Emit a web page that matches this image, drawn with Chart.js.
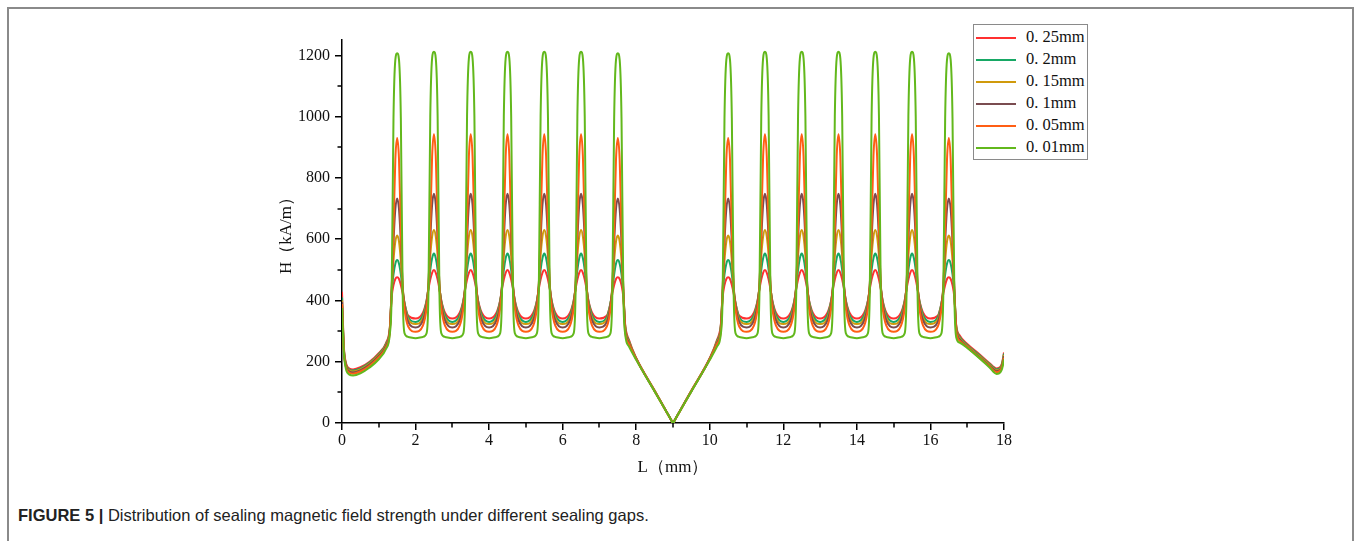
<!DOCTYPE html>
<html>
<head>
<meta charset="utf-8">
<script src="https://cdn.jsdelivr.net/npm/chart.js@4/dist/chart.umd.min.js"></script>
<style>
  html,body{margin:0;padding:0;background:#fff;width:1354px;height:541px;overflow:hidden;}
  #frame{position:absolute;left:7px;top:7px;width:1343px;height:540px;border-top:2px solid #8a8a8a;border-left:2px solid #8a8a8a;border-right:2px solid #8a8a8a;}
  #chart{position:absolute;left:0;top:0;}
  #legend{position:absolute;left:973px;top:24px;width:113px;height:134px;border:1px solid #8a8a8a;background:#fff;font-family:"Liberation Serif","DejaVu Serif",serif;font-size:16.5px;color:#111;}
  .item{position:absolute;left:0;height:20px;line-height:20px;}
  .swatch{position:absolute;left:2px;top:10px;width:40px;height:2px;}
  .lab{position:absolute;left:52px;top:0;white-space:nowrap;}
  #caption{position:absolute;left:18px;top:506px;font-family:"Liberation Sans",Arial,sans-serif;font-size:16.5px;color:#222;white-space:nowrap;}
  #caption b{font-weight:bold;}
</style>
</head>
<body>
<div id="frame"></div>
<canvas id="chart" width="1354" height="490"></canvas>
<div id="legend"></div>
<div id="caption"><b>FIGURE 5 |</b> Distribution of sealing magnetic field strength under different sealing gaps.</div>
<script>
// ---------- data ----------
const seriesNames = ["0. 25mm","0. 2mm","0. 15mm","0. 1mm","0. 05mm","0. 01mm"];
const seriesColors = ["#ff3030","#17a865","#d09a0c","#7a4c50","#ff5e14","#62b81c"];

const L = [
0,0.05,0.1,0.2,0.3,0.5,0.75,1.0,1.2,1.3,
1.35,1.4,1.45,1.5,1.55,1.6,1.65,1.7,1.8,2.0,
2.2,2.3,2.35,2.4,2.45,2.5,2.55,2.6,2.65,2.7,2.8,3.0,
3.2,3.3,3.35,3.4,3.45,3.5,3.55,3.6,3.65,3.7,3.8,4.0,
4.2,4.3,4.35,4.4,4.45,4.5,4.55,4.6,4.65,4.7,4.8,5.0,
5.2,5.3,5.35,5.4,5.45,5.5,5.55,5.6,5.65,5.7,5.8,6.0,
6.2,6.3,6.35,6.4,6.45,6.5,6.55,6.6,6.65,6.7,6.8,7.0,
7.2,7.3,7.35,7.4,7.45,7.5,7.55,7.6,7.65,7.7,7.8,8.0,8.5,8.8,8.95,9.0,
9.05,9.2,9.5,10.0,10.2,10.3,10.35,10.4,10.45,10.5,10.55,10.6,10.65,10.7,10.8,11.0,
11.2,11.3,11.35,11.4,11.45,11.5,11.55,11.6,11.65,11.7,11.8,12.0,
12.2,12.3,12.35,12.4,12.45,12.5,12.55,12.6,12.65,12.7,12.8,13.0,
13.2,13.3,13.35,13.4,13.45,13.5,13.55,13.6,13.65,13.7,13.8,14.0,
14.2,14.3,14.35,14.4,14.45,14.5,14.55,14.6,14.65,14.7,14.8,15.0,
15.2,15.3,15.35,15.4,15.45,15.5,15.55,15.6,15.65,15.7,15.8,16.0,
16.2,16.3,16.35,16.4,16.45,16.5,16.55,16.6,16.65,16.7,16.8,17.0,17.3,17.6,17.8,17.9,17.95,18.0
];

const H025 = [
428,250,200,178,175,182,200,228,262,310,
410,450,470,476,470,450,422,390,350,341,
360,400,437,468,490,499,490,468,437,400,360,341,
360,400,437,468,490,499,490,468,437,400,360,341,
360,400,437,468,490,499,490,468,437,400,360,341,
360,400,437,468,490,499,490,468,437,400,360,341,
360,400,437,468,490,499,490,468,437,400,360,341,
350,390,422,450,470,476,470,450,410,320,272,212,106,42,10,0,
10,42,106,212,272,320,410,450,470,476,470,450,422,390,350,341,
360,400,437,468,490,499,490,468,437,400,360,341,
360,400,437,468,490,499,490,468,437,400,360,341,
360,400,437,468,490,499,490,468,437,400,360,341,
360,400,437,468,490,499,490,468,437,400,360,341,
360,400,437,468,490,499,490,468,437,400,360,341,
350,390,422,450,470,476,470,450,410,320,285,258,228,196,178,183,197,230
];

const H020 = [
410,245,196,174,171,178,197,225,259,308,
425,485,520,532,520,485,432,392,345,330,
352,398,440,500,538,553,538,500,440,398,352,330,
352,398,440,500,538,553,538,500,440,398,352,330,
352,398,440,500,538,553,538,500,440,398,352,330,
352,398,440,500,538,553,538,500,440,398,352,330,
352,398,440,500,538,553,538,500,440,398,352,330,
345,392,432,485,520,532,520,485,425,316,268,211,105,42,10,0,
10,42,105,211,268,316,425,485,520,532,520,485,432,392,345,330,
352,398,440,500,538,553,538,500,440,398,352,330,
352,398,440,500,538,553,538,500,440,398,352,330,
352,398,440,500,538,553,538,500,440,398,352,330,
352,398,440,500,538,553,538,500,440,398,352,330,
352,398,440,500,538,553,538,500,440,398,352,330,
345,392,432,485,520,532,520,485,425,316,280,254,224,193,175,180,194,226
];

const H015 = [
400,242,193,171,168,175,194,222,256,306,
430,530,592,612,592,530,438,388,338,323,
343,393,445,545,608,630,608,545,445,393,343,323,
343,393,445,545,608,630,608,545,445,393,343,323,
343,393,445,545,608,630,608,545,445,393,343,323,
343,393,445,545,608,630,608,545,445,393,343,323,
343,393,445,545,608,630,608,545,445,393,343,323,
338,388,438,530,592,612,592,530,430,312,265,210,105,42,10,0,
10,42,105,210,265,312,430,530,592,612,592,530,438,388,338,323,
343,393,445,545,608,630,608,545,445,393,343,323,
343,393,445,545,608,630,608,545,445,393,343,323,
343,393,445,545,608,630,608,545,445,393,343,323,
343,393,445,545,608,630,608,545,445,393,343,323,
343,393,445,545,608,630,608,545,445,393,343,323,
338,388,438,530,592,612,592,530,430,312,276,251,221,190,172,177,191,222
];

const H010 = [
395,240,190,168,165,172,191,219,253,304,
435,590,698,733,698,590,445,384,330,312,
335,388,450,600,712,748,712,600,450,388,335,312,
335,388,450,600,712,748,712,600,450,388,335,312,
335,388,450,600,712,748,712,600,450,388,335,312,
335,388,450,600,712,748,712,600,450,388,335,312,
335,388,450,600,712,748,712,600,450,388,335,312,
330,384,445,590,698,733,698,590,435,308,262,209,104,42,10,0,
10,42,104,209,262,308,435,590,698,733,698,590,445,384,330,312,
335,388,450,600,712,748,712,600,450,388,335,312,
335,388,450,600,712,748,712,600,450,388,335,312,
335,388,450,600,712,748,712,600,450,388,335,312,
335,388,450,600,712,748,712,600,450,388,335,312,
335,388,450,600,712,748,712,600,450,388,335,312,
330,384,445,590,698,733,698,590,435,308,272,248,218,187,169,174,188,218
];

const H005 = [
388,236,186,164,161,168,187,215,248,298,
430,632,860,930,860,632,440,372,315,298,
318,375,445,640,870,942,870,640,445,375,318,298,
318,375,445,640,870,942,870,640,445,375,318,298,
318,375,445,640,870,942,870,640,445,375,318,298,
318,375,445,640,870,942,870,640,445,375,318,298,
318,375,445,640,870,942,870,640,445,375,318,298,
315,372,440,632,860,930,860,632,430,300,258,208,104,41,10,0,
10,41,104,208,258,300,430,632,860,930,860,632,440,372,315,298,
318,375,445,640,870,942,870,640,445,375,318,298,
318,375,445,640,870,942,870,640,445,375,318,298,
318,375,445,640,870,942,870,640,445,375,318,298,
318,375,445,640,870,942,870,640,445,375,318,298,
318,375,445,640,870,942,870,640,445,375,318,298,
315,372,440,632,860,930,860,632,430,300,268,247,216,185,166,171,184,213
];

const H001 = [
375,230,180,158,155,162,181,208,243,290,
420,995,1185,1207,1185,995,420,293,281,277,
281,293,420,1000,1190,1212,1190,1000,420,293,281,277,
281,293,420,1000,1190,1212,1190,1000,420,293,281,277,
281,293,420,1000,1190,1212,1190,1000,420,293,281,277,
281,293,420,1000,1190,1212,1190,1000,420,293,281,277,
281,293,420,1000,1190,1212,1190,1000,420,293,281,277,
281,293,420,995,1185,1207,1185,995,420,290,250,206,103,41,10,0,
10,41,103,206,250,290,420,995,1185,1207,1185,995,420,293,281,277,
281,293,420,1000,1190,1212,1190,1000,420,293,281,277,
281,293,420,1000,1190,1212,1190,1000,420,293,281,277,
281,293,420,1000,1190,1212,1190,1000,420,293,281,277,
281,293,420,1000,1190,1212,1190,1000,420,293,281,277,
281,293,420,1000,1190,1212,1190,1000,420,293,281,277,
281,293,420,995,1185,1207,1185,995,420,280,262,245,215,182,160,165,178,208
];

const xTicks = [0,2,4,6,8,10,12,14,16,18];
const yTicks = [0,200,400,600,800,1000,1200];
const xMinor = [1,3,5,7,9,11,13,15,17];
const yMinor = [100,300,500,700,900,1100];

const seriesValues = [H025,H020,H015,H010,H005,H001];

// ---------- chart ----------
const serif = '"Liberation Serif","DejaVu Serif",serif';

const minorTicks = {
  id:'minorTicks',
  afterDraw(chart){
    const ctx = chart.ctx, xs = chart.scales.x, ys = chart.scales.y;
    const a = chart.chartArea;
    ctx.save();
    ctx.strokeStyle = '#000'; ctx.lineWidth = 1.5;
    ctx.beginPath();
    xMinor.forEach(v=>{ const p = Math.round(xs.getPixelForValue(v)); ctx.moveTo(p, a.bottom); ctx.lineTo(p, a.bottom+4.5); });
    yMinor.forEach(v=>{ const p = Math.round(ys.getPixelForValue(v)); ctx.moveTo(a.left, p); ctx.lineTo(a.left-4.5, p); });
    ctx.stroke();
    ctx.restore();
  }
};

const datasets = seriesNames.map((n,i)=>({
  label:n,
  data:L.map((x,j)=>({x:x,y:seriesValues[i][j]})),
  borderColor:seriesColors[i],
  backgroundColor:seriesColors[i],
  borderWidth:2,
  pointRadius:0,
  fill:false,
  cubicInterpolationMode:'monotone',
  order:6-i
}));

new Chart(document.getElementById('chart'),{
  type:'line',
  data:{datasets:datasets},
  plugins:[minorTicks],
  options:{
    responsive:false,
    animation:false,
    layout:{padding:{left:262,right:350,top:40,bottom:7}},
    plugins:{legend:{display:false},tooltip:{enabled:false}},
    scales:{
      x:{
        type:'linear',min:0,max:18,
        afterBuildTicks(s){ s.ticks = xTicks.map(v=>({value:v})); },
        afterFit(s){ s.height = 60; },
        border:{display:true,color:'#000',width:1.5},
        grid:{display:true,drawOnChartArea:false,drawTicks:true,tickLength:7,color:'#000',lineWidth:1.5},
        ticks:{color:'#111',font:{family:serif,size:16},padding:1,maxRotation:0,callback:v=>String(v)},
        title:{display:true,text:'L（mm）',color:'#111',font:{family:serif,size:17},padding:{top:0,bottom:5}}
      },
      y:{
        type:'linear',min:0,max:1250,
        afterBuildTicks(s){ s.ticks = yTicks.map(v=>({value:v})); },
        afterFit(s){ s.width = 80; },
        border:{display:true,color:'#000',width:1.5},
        grid:{display:true,drawOnChartArea:false,drawTicks:true,tickLength:7,color:'#000',lineWidth:1.5},
        ticks:{color:'#111',font:{family:serif,size:16},padding:5,callback:v=>String(v)},
        title:{display:true,text:'H（kA/m）',color:'#111',font:{family:serif,size:17},padding:{top:14,bottom:0}}
      }
    }
  }
});

// legend (HTML, built from the same arrays)
const lg = document.getElementById('legend');
seriesNames.forEach((n,i)=>{
  const it = document.createElement('div');
  it.className='item';
  it.style.top = (2 + i*22) + 'px';
  it.innerHTML = '<div class="swatch" style="background:'+seriesColors[i]+'"></div><div class="lab">'+n+'</div>';
  lg.appendChild(it);
});
</script>
</body>
</html>
